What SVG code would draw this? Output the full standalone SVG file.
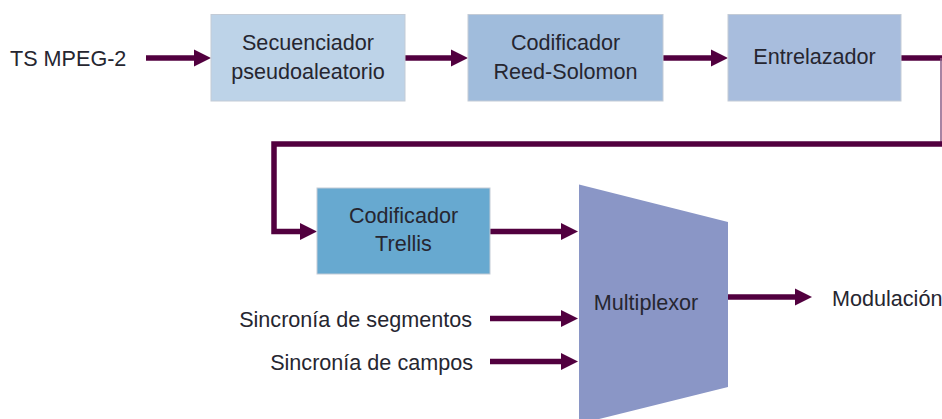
<svg xmlns="http://www.w3.org/2000/svg" width="942" height="419" viewBox="0 0 942 419">
<style>
  .lbl { font-family: "Liberation Sans", Arial, sans-serif; font-size: 21.6px; fill: #262630; }
  .c { text-anchor: middle; }
  .box { stroke: #c3cbd6; stroke-width: 1; }
  .wire { fill: none; stroke: #52003f; stroke-width: 5.5; stroke-linejoin: miter; }
  .arr { marker-end: url(#ah); }
</style>
<defs>
  <marker id="ah" markerUnits="userSpaceOnUse" markerWidth="18" markerHeight="18" viewBox="0 -9 18 18" refX="1" refY="0" orient="auto" overflow="visible">
    <path d="M0,-8.5 L17,0 L0,8.5 z" fill="#52003f"/>
  </marker>
</defs>
<rect width="942" height="419" fill="#ffffff"/>

<g id="connectors">
  <path class="wire arr" d="M146,58 H195"/>
  <path class="wire arr" d="M405,58 H452"/>
  <path class="wire arr" d="M663,58 H712"/>
  <path class="wire" d="M901,58 H942"/>
  <path d="M941,58 V144" fill="none" stroke="#8a5a85" stroke-width="1.5"/>
  <path class="wire arr" d="M942,144 H274 V231.5 H301"/>
  <path class="wire arr" d="M490,231.5 H562"/>
  <path class="wire arr" d="M490,318.5 H562"/>
  <path class="wire arr" d="M490,361.5 H562"/>
  <path class="wire arr" d="M728,297 H796"/>
</g>

<g id="ts-mpeg2">
  <text class="lbl" x="10" y="66">TS MPEG-2</text>
</g>

<g id="secuenciador">
  <rect class="box" x="211" y="14.5" width="194" height="86.5" fill="#bdd3e8"/>
  <text class="lbl c" x="308" y="50">Secuenciador</text>
  <text class="lbl c" x="308" y="79">pseudoaleatorio</text>
</g>

<g id="reed-solomon">
  <rect class="box" x="468" y="14.5" width="195" height="86.5" fill="#a0bcdc"/>
  <text class="lbl c" x="565.5" y="50">Codificador</text>
  <text class="lbl c" x="565.5" y="79">Reed-Solomon</text>
</g>

<g id="entrelazador">
  <rect class="box" x="728" y="14.5" width="173" height="86.5" fill="#a8bddd"/>
  <text class="lbl c" x="814.5" y="64">Entrelazador</text>
</g>

<g id="trellis">
  <rect class="box" x="317" y="188" width="173" height="86" fill="#67a9d0"/>
  <text class="lbl c" x="403.5" y="223">Codificador</text>
  <text class="lbl c" x="403.5" y="251">Trellis</text>
</g>

<g id="multiplexor">
  <polygon points="579,184.5 728,222 728,387 579,424" fill="#8a96c6"/>
  <text class="lbl c" x="646" y="310">Multiplexor</text>
</g>

<g id="sinc-segmentos">
  <text class="lbl" x="472" y="327" text-anchor="end">Sincronía de segmentos</text>
</g>

<g id="sinc-campos">
  <text class="lbl" x="473" y="370" text-anchor="end">Sincronía de campos</text>
</g>

<g id="modulacion">
  <text class="lbl" x="832" y="306">Modulación</text>
</g>
</svg>
